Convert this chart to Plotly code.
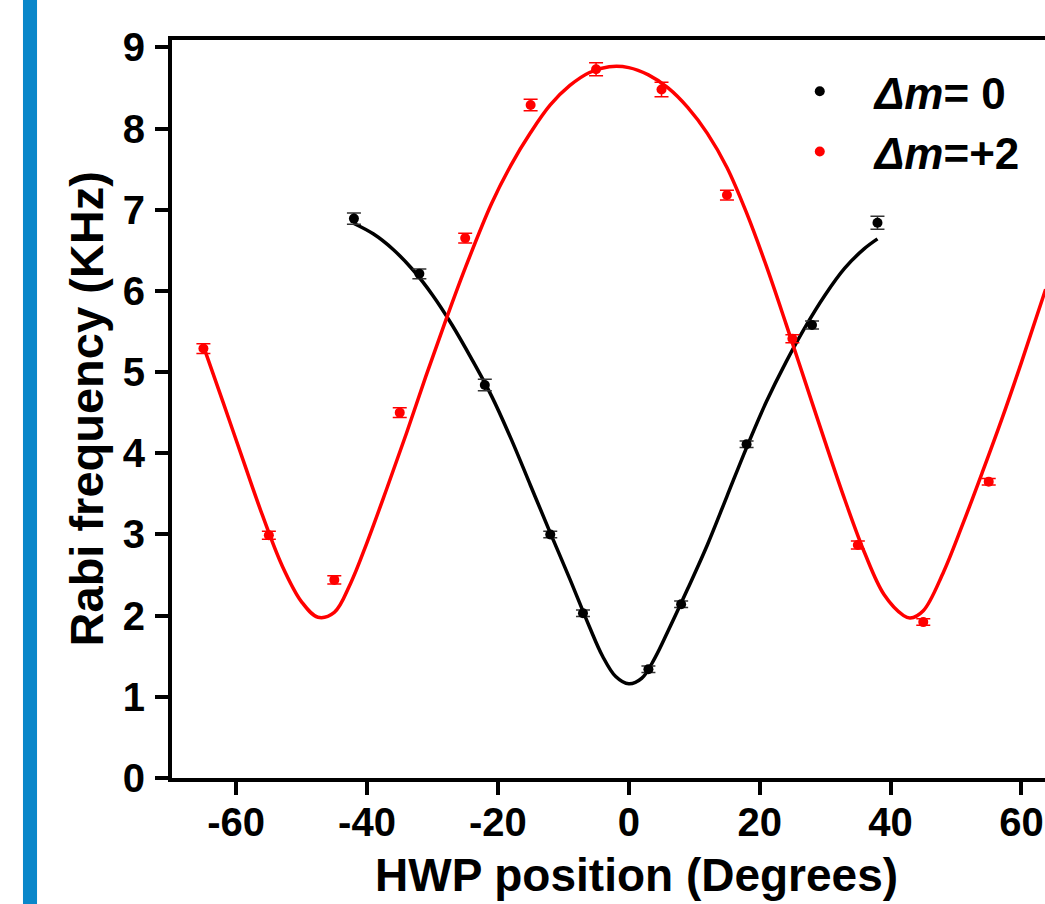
import plotly.graph_objects as go

# measured data, Δm = 0
black_x = [-42, -32, -22, -12, -7, 3, 8, 18, 28, 38]
black_y = [6.89, 6.21, 4.84, 3.00, 2.03, 1.34, 2.14, 4.11, 5.58, 6.84]
black_err = [0.07, 0.06, 0.07, 0.04, 0.04, 0.04, 0.04, 0.04, 0.05, 0.08]

# measured data, Δm = +2
red_x = [-65, -55, -45, -35, -25, -15, -5, 5, 15, 25, 35, 45, 55]
red_y = [5.29, 2.99, 2.44, 4.50, 6.65, 8.29, 8.73, 8.48, 7.18, 5.41, 2.87, 1.92, 3.65]
red_err = [0.06, 0.05, 0.05, 0.06, 0.06, 0.07, 0.08, 0.09, 0.06, 0.05, 0.05, 0.04, 0.04]

# fitted curves
black_fit_x = [-42, -39, -36, -33, -30, -27, -24, -21, -18, -15, -12, -9, -6, -4, -2, 0,
               2, 4, 6, 9, 12, 15, 18, 21, 24, 27, 30, 33, 36, 38]
black_fit_y = [6.83, 6.70, 6.51, 6.26, 5.95, 5.58, 5.16, 4.71, 4.18, 3.60, 3.02, 2.45, 1.86, 1.50, 1.25, 1.16,
               1.23, 1.48, 1.81, 2.33, 2.87, 3.47, 4.07, 4.63, 5.12, 5.56, 5.95, 6.28, 6.52, 6.64]

red_fit_x = [-65, -62, -59, -56, -53, -50, -47.5, -45, -42.5, -40, -37, -34, -31, -28, -25, -21,
             -18, -15, -12, -9, -6, -3, 0, 3, 6, 9, 12, 15, 18, 21, 24, 27, 30, 33, 36, 39,
             42, 43, 45, 48, 51, 54, 57, 60, 63.7]
red_fit_y = [5.32, 4.63, 3.93, 3.24, 2.62, 2.17, 1.98, 2.04, 2.40, 2.90, 3.56, 4.24, 4.95, 5.63, 6.28, 7.07,
             7.55, 7.95, 8.29, 8.53, 8.69, 8.76, 8.75, 8.66, 8.50, 8.26, 7.94, 7.52, 6.96, 6.31, 5.60, 4.87,
             4.14, 3.43, 2.78, 2.26, 2.00, 1.97, 2.06, 2.52, 3.12, 3.76, 4.42, 5.12, 6.02]

x_ticks = [-60, -40, -20, 0, 20, 40, 60]
x_tick_labels = ["-60", "-40", "-20", "0", "20", "40", "60"]
y_ticks = [0, 1, 2, 3, 4, 5, 6, 7, 8, 9]

FONT = "Liberation Sans, Arial, sans-serif"

fig = go.Figure()

fig.add_trace(go.Scatter(x=black_fit_x, y=black_fit_y, mode="lines",
                         line=dict(color="black", width=3.5, shape="spline", smoothing=1),
                         showlegend=False, hoverinfo="skip"))
fig.add_trace(go.Scatter(x=red_fit_x, y=red_fit_y, mode="lines",
                         line=dict(color="#ff0000", width=3.5, shape="spline", smoothing=1),
                         showlegend=False, hoverinfo="skip"))

fig.add_trace(go.Scatter(
    x=black_x, y=black_y, mode="markers", name="<i>Δm</i>= 0",
    marker=dict(color="black", size=10),
    error_y=dict(type="data", array=black_err, color="#333333", thickness=1.5, width=7),
))
fig.add_trace(go.Scatter(
    x=red_x, y=red_y, mode="markers", name="<i>Δm</i>=+2",
    marker=dict(color="#ff0000", size=10),
    error_y=dict(type="data", array=red_err, color="#ff0000", thickness=1.5, width=7),
))

axis_common = dict(
    showline=True, linecolor="black", linewidth=4,
    ticks="outside", ticklen=13, tickwidth=4, tickcolor="black",
    showgrid=False, zeroline=False,
    tickfont=dict(family=FONT, size=40, color="black", weight="bold"),
)

fig.update_xaxes(range=[-69.8, 63.6], tickvals=x_ticks, ticktext=x_tick_labels, mirror=True,
                 ticklabeloverflow="allow", ticklabelstandoff=-7, **axis_common)
fig.update_yaxes(range=[0, 9.09], tickvals=y_ticks, mirror=False, ticklabelstandoff=2, **axis_common)

fig.add_annotation(text="<b>HWP position (Degrees)</b>", xref="paper", yref="paper",
                   x=0.532, y=-0.131, xanchor="center", yanchor="middle", showarrow=False,
                   font=dict(family=FONT, size=46, color="black"))
fig.add_annotation(text="<b>Rabi frequency (KHz)</b>", xref="paper", yref="paper",
                   x=-0.098, y=0.5, xanchor="center", yanchor="middle", showarrow=False, textangle=-90,
                   font=dict(family=FONT, size=47, color="black"))

fig.add_shape(type="rect", xref="paper", yref="paper", x0=-0.1707, x1=-0.1546, y0=-0.25, y1=1.1,
              fillcolor="#0a87ca", line=dict(width=0), layer="above")

fig.update_layout(
    width=1045, height=904,
    margin=dict(l=172, r=0, t=40, b=126),
    plot_bgcolor="white", paper_bgcolor="white",
    legend=dict(x=0.679, y=0.978, xanchor="left", yanchor="top", bgcolor="rgba(0,0,0,0)",
                font=dict(family=FONT, size=44, color="black", weight="bold"), itemwidth=100,
                tracegroupgap=0),
)

fig.write_html("out.html", config={"displayModeBar": False},
               post_script="document.body.style.margin='0';document.body.style.padding='0';")
